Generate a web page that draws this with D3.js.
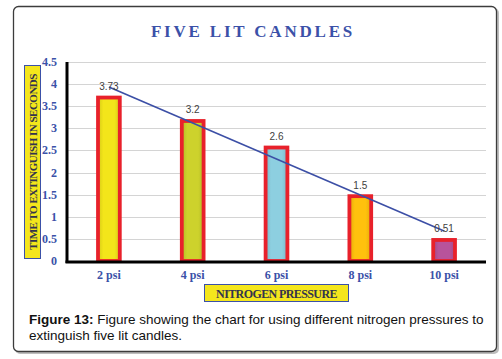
<!DOCTYPE html>
<html>
<head>
<meta charset="utf-8">
<script src="https://cdn.jsdelivr.net/npm/d3@7"></script>
<style>
  body { margin: 0; background: #fff; }
</style>
</head>
<body>
<svg id="chart" width="502" height="359"></svg>
<script>
// data
const categories = ["2 psi", "4 psi", "6 psi", "8 psi", "10 psi"];
const values = [3.73, 3.2, 2.6, 1.5, 0.51];
const valueLabels = ["3.73", "3.2", "2.6", "1.5", "0.51"];
const barColors = ["#f3e51a", "#cdd22c", "#8dcfe0", "#ffc10d", "#b8539b"];
const yTicks = [0, 0.5, 1, 1.5, 2, 2.5, 3, 3.5, 4, 4.5];

const svg = d3.select("#chart");
const blue = "#3b51a8";
const serif = "'Liberation Serif', 'Times New Roman', serif";

// outer frame with a soft shadow
svg.append("rect")
    .attr("x", 15).attr("y", 8).attr("width", 484).attr("height", 346)
    .attr("rx", 5).attr("fill", "#bdbdbd");
svg.append("rect")
    .attr("x", 13.5).attr("y", 6.5).attr("width", 483).attr("height", 345)
    .attr("rx", 5).attr("fill", "#fff").attr("stroke", "#3c3c3c").attr("stroke-width", 1.3);

// title
svg.append("text")
    .attr("x", 253).attr("y", 37)
    .attr("text-anchor", "middle")
    .attr("font-family", serif).attr("font-weight", "bold")
    .attr("font-size", 17).attr("letter-spacing", 2.8)
    .attr("fill", blue)
    .text("FIVE LIT CANDLES");

const plotLeft = 67, plotRight = 486, plotTop = 62, plotBottom = 261;

const x = d3.scaleBand()
    .domain(categories)
    .range([plotLeft, plotRight])
    .paddingInner(0.74)
    .paddingOuter(0.37);

const y = d3.scaleLinear()
    .domain([0, 4.5])
    .range([plotBottom, plotTop]);

// gradients for the bars
const defs = svg.append("defs");
barColors.forEach((c, i) => {
    const g = defs.append("linearGradient").attr("id", "g" + i)
        .attr("x1", 0).attr("x2", 1).attr("y1", 0).attr("y2", 0);
    const dark = d3.color(c).darker(0.35);
    g.append("stop").attr("offset", "0%").attr("stop-color", dark);
    g.append("stop").attr("offset", "25%").attr("stop-color", c);
    g.append("stop").attr("offset", "75%").attr("stop-color", c);
    g.append("stop").attr("offset", "100%").attr("stop-color", dark);
});

// grid
svg.append("g")
    .selectAll("line")
    .data(yTicks.slice(1))
    .join("line")
    .attr("x1", plotLeft).attr("x2", plotRight)
    .attr("y1", d => Math.round(y(d)) + 0.5).attr("y2", d => Math.round(y(d)) + 0.5)
    .attr("stroke", "#d4d4d4").attr("stroke-width", 1);

// y tick labels
svg.append("g")
    .selectAll("text")
    .data(yTicks)
    .join("text")
    .attr("x", 57).attr("y", d => y(d) + 4)
    .attr("text-anchor", "end")
    .attr("font-family", serif).attr("font-weight", "bold")
    .attr("font-size", 12).attr("fill", blue)
    .text(d => d);

// bars
svg.append("g")
    .selectAll("rect")
    .data(values)
    .join("rect")
    .attr("x", (d, i) => x(categories[i]))
    .attr("y", d => y(d) + 1.5)
    .attr("width", x.bandwidth())
    .attr("height", d => plotBottom - y(d) - 1.5)
    .attr("fill", (d, i) => `url(#g${i})`)
    .attr("stroke", "#e8212b").attr("stroke-width", 3.8);

// axes lines
svg.append("line")
    .attr("x1", plotLeft).attr("x2", plotLeft).attr("y1", plotTop).attr("y2", plotBottom + 2)
    .attr("stroke", "#000").attr("stroke-width", 3);
svg.append("line")
    .attr("x1", plotLeft - 1.5).attr("x2", plotRight).attr("y1", plotBottom + 1).attr("y2", plotBottom + 1)
    .attr("stroke", "#000").attr("stroke-width", 3);

// linear trend line (least squares)
const xs = values.map((d, i) => i + 1);
const mx = d3.mean(xs), my = d3.mean(values);
const slope = d3.sum(xs, (v, i) => (v - mx) * (values[i] - my)) / d3.sum(xs, v => (v - mx) ** 2);
const trend = xs.map(v => my + slope * (v - mx));
svg.append("line")
    .attr("x1", x(categories[0]) + x.bandwidth() / 2)
    .attr("y1", y(trend[0]))
    .attr("x2", x(categories[4]) + x.bandwidth() / 2)
    .attr("y2", y(trend[4]))
    .attr("stroke", "#3c4fa6").attr("stroke-width", 1.6);

// value labels
svg.append("g")
    .selectAll("text")
    .data(values)
    .join("text")
    .attr("x", (d, i) => x(categories[i]) + x.bandwidth() / 2)
    .attr("y", d => y(d) - 6)
    .attr("text-anchor", "middle")
    .attr("font-family", "'Liberation Sans', Arial, sans-serif")
    .attr("font-size", 10).attr("fill", "#404040")
    .text((d, i) => valueLabels[i]);

// x tick labels
svg.append("g")
    .selectAll("text")
    .data(categories)
    .join("text")
    .attr("x", d => x(d) + x.bandwidth() / 2)
    .attr("y", 279)
    .attr("text-anchor", "middle")
    .attr("font-family", serif).attr("font-weight", "bold")
    .attr("font-size", 12).attr("fill", blue)
    .text(d => d);

// x axis title box
svg.append("rect")
    .attr("x", 204.5).attr("y", 284.5).attr("width", 144).attr("height", 17)
    .attr("fill", "#f4e61c").attr("stroke", "#3b51a8").attr("stroke-width", 1);
svg.append("text")
    .attr("x", 276.5).attr("y", 297.5)
    .attr("text-anchor", "middle")
    .attr("font-family", serif).attr("font-weight", "bold")
    .attr("font-size", 12).attr("letter-spacing", -0.6)
    .attr("fill", "#33334d")
    .text("NITROGEN PRESSURE");

// y axis title box
svg.append("rect")
    .attr("x", 24.5).attr("y", 65.5).attr("width", 16).attr("height", 193)
    .attr("fill", "#f4e61c").attr("stroke", "#3b51a8").attr("stroke-width", 1);
svg.append("text")
    .attr("transform", "translate(36.5,162) rotate(-90)")
    .attr("text-anchor", "middle")
    .attr("font-family", serif).attr("font-weight", "bold")
    .attr("font-size", 11).attr("letter-spacing", -0.5)
    .attr("fill", "#33334d")
    .text("TIME TO EXTINGUISH IN SECONDS");

// caption
const cap = svg.append("text")
    .attr("font-family", "'Liberation Sans', Arial, sans-serif")
    .attr("font-size", 13.5).attr("fill", "#111");
const l1 = cap.append("tspan").attr("x", 29).attr("y", 324);
l1.append("tspan").attr("font-weight", "bold").text("Figure 13:");
l1.append("tspan").text(" Figure showing the chart for using different nitrogen pressures to");
cap.append("tspan").attr("x", 29).attr("y", 340).text("extinguish five lit candles.");
</script>
</body>
</html>
